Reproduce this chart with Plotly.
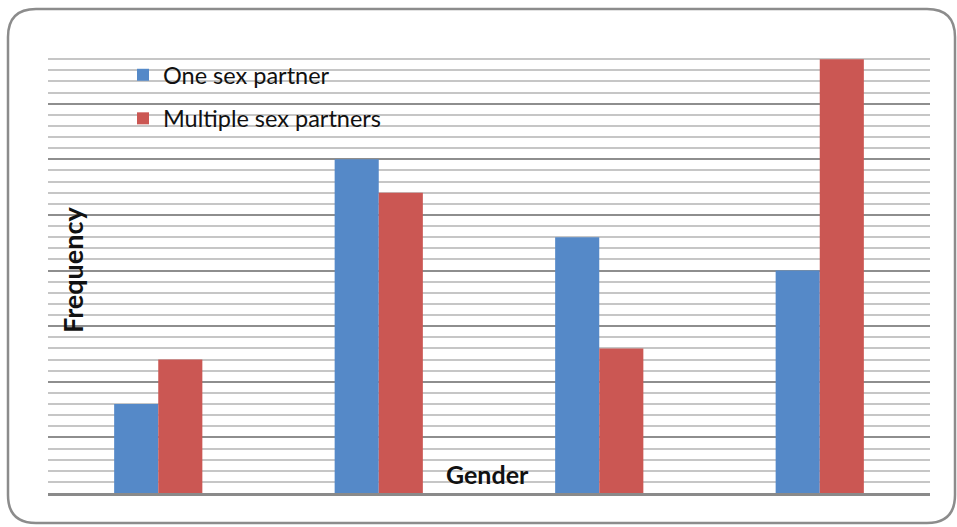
import plotly.graph_objects as go

categories = ["Group 1", "Group 2", "Group 3", "Group 4"]
one_partner = [8, 30, 23, 20]
multiple_partners = [12, 27, 13, 39]
series_names = ["One sex partner", "Multiple sex partners"]

W, H = 957, 527
L, R, T, B = 48, 27, 48, 34
PW, PH = W - L - R, H - T - B


def px(x):
    return (x - L) / PW


def py(y):
    return (H - B - y) / PH


def rounded_rect(x0, y0, x1, y1, r):
    return (
        f"M {px(x0 + r)} {py(y0)} L {px(x1 - r)} {py(y0)} "
        f"Q {px(x1)} {py(y0)} {px(x1)} {py(y0 + r)} "
        f"L {px(x1)} {py(y1 - r)} Q {px(x1)} {py(y1)} {px(x1 - r)} {py(y1)} "
        f"L {px(x0 + r)} {py(y1)} Q {px(x0)} {py(y1)} {px(x0)} {py(y1 - r)} "
        f"L {px(x0)} {py(y0 + r)} Q {px(x0)} {py(y0)} {px(x0 + r)} {py(y0)} Z"
    )


fig = go.Figure()
fig.add_trace(go.Bar(x=categories, y=one_partner, name=series_names[0],
                     marker=dict(color="#5589c8", line=dict(width=0)),
                     legendgroup="a"))
fig.add_trace(go.Bar(x=categories, y=multiple_partners, name=series_names[1],
                     marker=dict(color="#cb5753", line=dict(width=0)),
                     legendgroup="b"))

fig.update_layout(
    width=W, height=H,
    margin=dict(l=L, r=R, t=T, b=B, pad=0),
    paper_bgcolor="white", plot_bgcolor="white",
    barmode="group", bargap=0.6, bargroupgap=0,
    font=dict(family="Lato", color="#111"),
    showlegend=True,
    legend=dict(x=px(123), y=py(53), xanchor="left", yanchor="top",
                bgcolor="rgba(0,0,0,0)", font=dict(size=23.5, family="Lato"),
                tracegroupgap=10, itemwidth=30),
    xaxis=dict(showticklabels=False, ticks="", showgrid=False,
               showline=True, linecolor="#8a8a8a", linewidth=3),
    yaxis=dict(range=[0, 40], dtick=5, showticklabels=False, ticks="",
               showgrid=True, gridcolor="#8e8e8e", gridwidth=2,
               zeroline=False, showline=False,
               minor=dict(dtick=1, showgrid=True, gridcolor="#c6c6c6", gridwidth=2)),
    shapes=[dict(type="path", xref="paper", yref="paper",
                 path=rounded_rect(8, 9, 955, 523, 28),
                 line=dict(color="#8c8c8c", width=2.5), layer="below")],
    annotations=[
        dict(text="<b>Frequency</b>", xref="paper", yref="paper",
             x=px(72), y=py(270), textangle=-90, showarrow=False,
             font=dict(size=27, family="Lato", color="#111"),
             xanchor="center", yanchor="middle"),
        dict(text="<b>Gender</b>", xref="paper", yref="paper",
             x=px(487), y=py(474), showarrow=False,
             font=dict(size=25, family="Lato", color="#111"),
             xanchor="center", yanchor="middle"),
    ],
)

fig.write_html("out.html")
